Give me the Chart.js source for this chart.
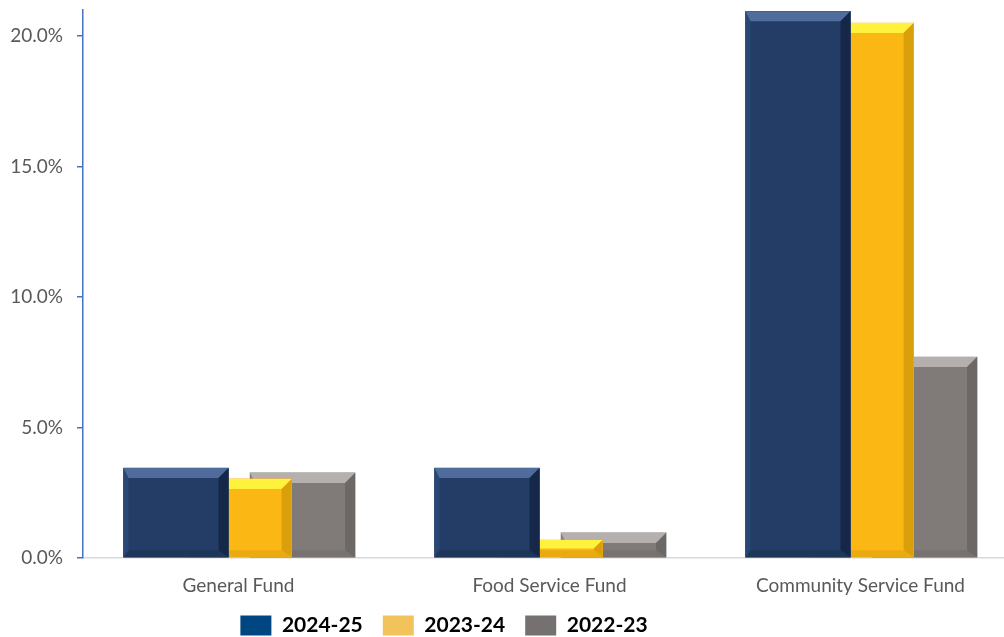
<!DOCTYPE html>
<html><head><meta charset="utf-8">
<script src="https://cdn.jsdelivr.net/npm/chart.js@4"></script>
<style>html,body{margin:0;padding:0;overflow:hidden;background:#fff}
#wrap{width:1016px;height:637px;position:relative}
</style></head><body><div id="wrap"><canvas id="c"></canvas></div>
<script>
// ---- data ----
const categories = ['General Fund', 'Food Service Fund', 'Community Service Fund'];
const seriesNames = ['2024-25', '2023-24', '2022-23'];
const values2024_25 = [3.45, 3.45, 20.95];
const values2023_24 = [3.03, 0.69, 20.5];
const values2022_23 = [3.26, 0.96, 7.7];
const yTickValues = [0, 5, 10, 15, 20];

// ---- styles ----
const seriesValues = [values2024_25, values2023_24, values2022_23];
const seriesOffsets = [-0.201, 0.002, 0.206];
const faceColors = ['#233d66', '#fbb714', '#807b78'];
const legendColors = ['#004680', '#f2c35a', '#767171'];
const bevel = [
  {top: '#4f6c9c', right: '#152849', bottom: '#1e3659', left: '#2a4675'},
  {top: '#fff23c', right: '#d9a00b', bottom: '#eaab10', left: '#fcbc20'},
  {top: '#b5b0ad', right: '#6b6866', bottom: '#77726f', left: '#85807d'}
];

const datasets = seriesNames.map((name, s) => ({
  label: name,
  data: categories.map((c, i) => ({x: i + seriesOffsets[s], y: seriesValues[s][i]})),
  backgroundColor: faceColors[s],
  borderWidth: 0,
  barThickness: 105,
  grouped: false
}));

const bevelPlugin = {
  id: 'bevel',
  afterInit(chart) {
    const lg = chart.legend;
    if (lg) {
      const origFit = lg.fit;
      lg.fit = function () { origFit.call(this); this.height = 35; };
    }
  },
  afterDatasetDraw(chart, args) {
    const ctx = chart.ctx;
    const s = args.index;
    const col = bevel[s];
    args.meta.data.forEach(el => {
      const p = el.getProps(['x', 'y', 'width', 'base'], true);
      const l = p.x - p.width / 2, r = p.x + p.width / 2;
      const t = Math.min(p.y, p.base), b = Math.max(p.y, p.base);
      const h = b - t;
      const bv = Math.min(10, h / 2);
      const bb = Math.min(7, h / 2);
      ctx.save();
      const poly = (pts, c) => {
        ctx.beginPath();
        ctx.moveTo(pts[0][0], pts[0][1]);
        for (let k = 1; k < pts.length; k++) ctx.lineTo(pts[k][0], pts[k][1]);
        ctx.closePath();
        ctx.fillStyle = c; ctx.fill();
      };
      poly([[l, t], [l + 5, t + bv], [l + 5, b - bb], [l, b]], col.left);
      poly([[l, b], [r, b], [r - bv, b - bb], [l + 5, b - bb]], col.bottom);
      poly([[l, t], [r, t], [r - bv, t + bv], [l + 5, t + bv]], col.top);
      poly([[r, t], [r, b], [r - bv, b - bb], [r - bv, t + bv]], col.right);
      ctx.restore();
    });
  },
  afterLayout(chart) {
    const lg = chart.legend;
    if (lg) { lg.left -= 64; lg.right -= 64; lg.top -= 7; lg.bottom = chart.height; }
  }
};

new Chart(document.getElementById('c'), {
  type: 'bar',
  data: {datasets},
  plugins: [bevelPlugin],
  options: {
    responsive: true,
    maintainAspectRatio: false,
    animation: false,
    layout: {padding: {top: 10, left: 0, right: 0, bottom: 0}},
    plugins: {
      tooltip: {enabled: false},
      legend: {
        position: 'bottom',
        labels: {
          boxWidth: 31, boxHeight: 20, padding: 20,
          color: '#000',
          font: {family: 'Lato', size: 21, weight: 'bold'},
          generateLabels(chart) {
            return chart.data.datasets.map((d, i) => ({
              text: d.label, fillStyle: legendColors[i], strokeStyle: legendColors[i],
              lineWidth: 0, hidden: false, datasetIndex: i
            }));
          }
        }
      }
    },
    scales: {
      x: {
        type: 'linear',
        offset: false,
        min: -0.5, max: 2.5,
        afterBuildTicks(scale) { scale.ticks = categories.map((c, i) => ({value: i})); },
        afterFit(scale) { scale.height = 44; },
        ticks: {
          callback: (v) => categories[v],
          color: '#595959',
          font: {family: 'Lato', size: 19},
          padding: 16,
          autoSkip: false, maxRotation: 0
        },
        grid: {display: false, drawTicks: false},
        border: {display: true, color: '#d9d9d9', width: 1.5}
      },
      y: {
        min: 0, max: 21,
        afterBuildTicks(scale) { scale.ticks = yTickValues.map(v => ({value: v})); },
        afterFit(scale) { scale.width = 83; scale.paddingTop = 0; scale.paddingBottom = 0; },
        ticks: {
          callback: (v) => v.toFixed(1) + '%',
          color: '#595959',
          font: {family: 'Lato', size: 19},
          padding: 14
        },
        grid: {drawOnChartArea: false, tickLength: 6, color: '#4472c4', lineWidth: 1.5},
        border: {display: true, color: '#4472c4', width: 1.5}
      }
    }
  }
});
</script></body></html>
